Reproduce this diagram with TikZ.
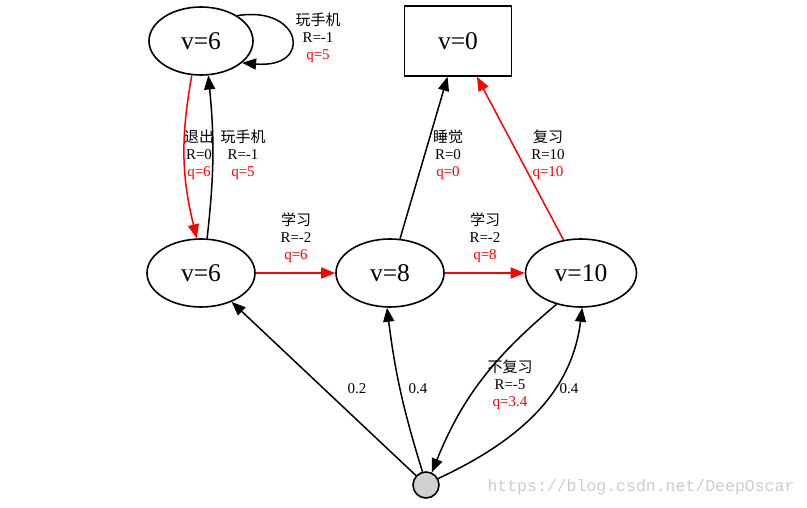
\documentclass[tikz,border=0pt]{standalone}
\usepackage{fontspec}
\setmainfont{Liberation Serif}
\newfontfamily\cjk{Noto Sans CJK SC}
\newfontfamily\wmfont{Liberation Mono}
\usetikzlibrary{shapes.geometric,arrows.meta}
\begin{document}
\begin{tikzpicture}[x=1pt,y=1pt,
  state/.style={ellipse,draw,line width=1.6pt,inner sep=0pt,minimum width=104pt,minimum height=68pt,font=\fontsize{25.5}{25.5}\selectfont},
  term/.style={rectangle,draw,line width=1.6pt,inner sep=0pt,minimum width=107pt,minimum height=70pt,font=\fontsize{25.5}{25.5}\selectfont},
  chance/.style={circle,draw,line width=1.6pt,fill=black!18,inner sep=0pt,minimum size=26pt},
  edge/.style={line width=1.5pt,-{Triangle[length=14pt,width=11pt]}},
  redge/.style={edge,red},
  lab/.style={align=center,inner sep=0pt,font=\fontsize{15}{17}\selectfont}]
\useasboundingbox (0,0) rectangle (807,507);
\node[state] (A) at (201,466) {v=6};
\node[term] (V0) at (458,466) {v=0};
\node[state,minimum width=108pt] (B) at (201,234) {v=6};
\node[state,minimum width=108pt] (C) at (390,234) {v=8};
\node[state,minimum width=111pt] (D) at (581,234) {v=10};
\node[chance] (E) at (426,22) {};

% self loop
\draw[edge] (A.35) .. controls (302,502) and (314,438) .. (A.-28);
\node[lab] (lA) at (318,469) {{\cjk 玩手机}\\R=-1\\\textcolor{red}{q=5}};

% A -> B (red) and B -> A
\draw[redge] (A.255) to[bend right=12] (B.97);
\node[lab] (lAB) at (199,352) {{\cjk 退出}\\R=0\\\textcolor{red}{q=6}};
\draw[edge] (B.80) to[bend right=6] (A.282);
\node[lab] (lBA) at (243,352) {{\cjk 玩手机}\\R=-1\\\textcolor{red}{q=5}};

% B -> C, C -> D
\draw[redge] (B) -- (C);
\node[lab] (lBC) at (296,269) {{\cjk 学习}\\R=-2\\\textcolor{red}{q=6}};
\draw[redge] (C) -- (D);
\node[lab] (lCD) at (485,269) {{\cjk 学习}\\R=-2\\\textcolor{red}{q=8}};

% to terminal
\draw[edge] (C) -- (V0);
\node[lab] (lC0) at (448,352) {{\cjk 睡觉}\\R=0\\\textcolor{red}{q=0}};
\draw[redge] (D) -- (V0);
\node[lab] (lD0) at (548,352) {{\cjk 复习}\\R=10\\\textcolor{red}{q=10}};

% D -> E
\draw[edge] (D.232) to[out=-140,in=68] (E.65);
\node[lab] (lDE) at (510,122) {{\cjk 不复习}\\R=-5\\\textcolor{red}{q=3.4}};

% E -> states
\draw[edge] (E) -- (B);
\node[lab] (p1) at (357,118) {0.2};
\draw[edge] (E.105) to[bend left=5] (C.265);
\node[lab] (p2) at (418,118) {0.4};
\draw[edge] (E.28) to[out=25,in=-97] (D.272);
\node[lab] (p3) at (569,118) {0.4};

\node[font=\wmfont\fontsize{16.5}{16.5}\selectfont,text=black!20,inner sep=0pt] (wm) at (641,20) {https://blog.csdn.net/DeepOscar};
\end{tikzpicture}
\end{document}
